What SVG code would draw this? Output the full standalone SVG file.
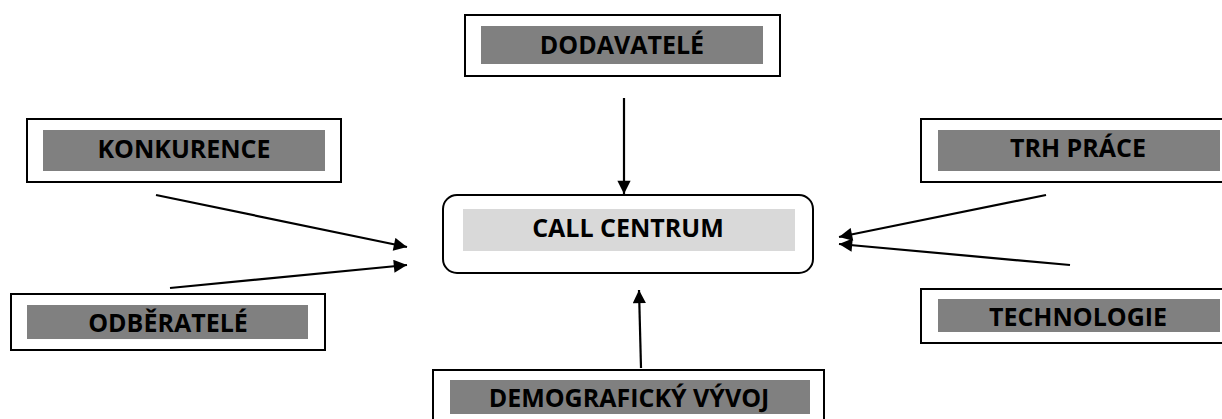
<svg xmlns="http://www.w3.org/2000/svg" width="1222" height="419" viewBox="0 0 1222 419">
<defs>
<style>
.outer{fill:#fff;stroke:#000;stroke-width:2}
.inner{fill:#808080}
.innerL{fill:#d9d9d9}
.lbl{font-family:"Open Sans","Noto Sans",sans-serif;font-weight:bold;font-size:25px;fill:#000;text-anchor:middle}
.conn{stroke:#000;stroke-width:2.2;fill:none;marker-end:url(#ah)}
</style>
<marker id="ah" viewBox="0 0 10 10" refX="10" refY="5" markerWidth="7.5" markerHeight="6" markerUnits="strokeWidth" orient="auto">
<path d="M0,0 L10,5 L0,10 z" fill="#000"/>
</marker>
</defs>
<rect width="1222" height="419" fill="#fff"/>
<g id="dodavatele">
<rect class="outer" x="465" y="15" width="315" height="61"/>
<rect class="inner" x="481" y="26" width="282" height="38"/>
<text class="lbl" x="622" y="54">DODAVATELÉ</text>
</g>
<g id="konkurence">
<rect class="outer" x="27" y="119" width="314" height="63"/>
<rect class="inner" x="43" y="130" width="282" height="41"/>
<text class="lbl" x="184" y="158">KONKURENCE</text>
</g>
<g id="odberatele">
<rect class="outer" x="11" y="294" width="314" height="56"/>
<rect class="inner" x="27" y="305" width="281" height="34"/>
<text class="lbl" x="168" y="332">ODBĚRATELÉ</text>
</g>
<g id="callcentrum">
<rect class="outer" x="443" y="195" width="370" height="78" rx="14"/>
<rect class="innerL" x="463" y="209" width="332" height="42"/>
<text class="lbl" x="628" y="237">CALL CENTRUM</text>
</g>
<g id="trhprace">
<rect class="outer" x="921" y="119" width="310" height="63"/>
<rect class="inner" x="938" y="130" width="282" height="41"/>
<text class="lbl" x="1078" y="157">TRH PRÁCE</text>
</g>
<g id="technologie">
<rect class="outer" x="921" y="289" width="310" height="54"/>
<rect class="inner" x="938" y="299" width="282" height="33"/>
<text class="lbl" x="1078" y="326">TECHNOLOGIE</text>
</g>
<g id="demograficky">
<rect class="outer" x="433" y="370" width="391" height="60"/>
<rect class="inner" x="450" y="380" width="360" height="34"/>
<text class="lbl" x="629" y="407">DEMOGRAFICKÝ VÝVOJ</text>
</g>
<g id="connectors">
<line class="conn" x1="624" y1="98" x2="624" y2="194"/>
<line class="conn" x1="641" y1="368" x2="639" y2="290"/>
<line class="conn" x1="156" y1="195" x2="407" y2="247"/>
<line class="conn" x1="170" y1="288" x2="407" y2="265"/>
<line class="conn" x1="1046" y1="195" x2="839" y2="237"/>
<line class="conn" x1="1070" y1="265" x2="839" y2="244"/>
</g>
</svg>
